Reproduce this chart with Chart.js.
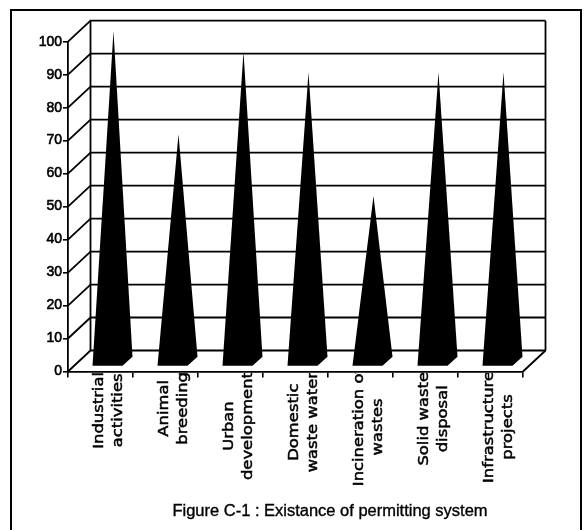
<!DOCTYPE html>
<html>
<head>
<meta charset="utf-8">
<script src="https://cdn.jsdelivr.net/npm/chart.js@4"></script>
<style>
  html, body { margin: 0; padding: 0; background: #fff; }
  #wrap { position: relative; width: 585px; height: 530px; }
</style>
</head>
<body>
<div id="wrap"><canvas id="c" width="585" height="530"></canvas></div>
<script>
// ---- data ----
const categories = [
  ["Industrial", "activities"],
  ["Animal", "breeding"],
  ["Urban", "development"],
  ["Domestic", "waste water"],
  ["Incineration of", "wastes"],
  ["Solid waste", "disposal"],
  ["Infrastructure", "projects"]
];
const values = [100, 68.75, 93.75, 87.5, 50, 87.5, 87.5];
const yTicks = [0, 10, 20, 30, 40, 50, 60, 70, 80, 90, 100];
const caption = "Figure C-1 : Existance of permitting system";

// ---- 3D look settings ----
const DX = 22.5, DY = 21;       // back wall offset
const MDX = 11, MDY = 10.5;     // cone (middle depth) offset

const wallPlugin = {
  id: 'wall',
  beforeDatasetsDraw(chart) {
    const { ctx, chartArea: a, scales: { y } } = chart;
    ctx.save();
    ctx.strokeStyle = '#000';
    ctx.lineWidth = 1.8;
    yTicks.forEach(v => {
      const py = y.getPixelForValue(v);
      ctx.beginPath();
      ctx.moveTo(a.left, py);
      ctx.lineTo(a.left + DX, py - DY);
      ctx.lineTo(a.right + DX, py - DY);
      ctx.stroke();
    });
    const top = y.getPixelForValue(yTicks[yTicks.length - 1]) - DY;
    const bot = y.getPixelForValue(0) - DY;
    ctx.beginPath();
    ctx.moveTo(a.left + DX, top); ctx.lineTo(a.left + DX, bot);
    ctx.moveTo(a.right + DX, top); ctx.lineTo(a.right + DX, bot);
    ctx.moveTo(a.right, y.getPixelForValue(0)); ctx.lineTo(a.right + DX, bot);
    ctx.stroke();
    ctx.restore();
  },
  afterDatasetsDraw(chart) {
    const { ctx, chartArea: a, scales: { x } } = chart;
    const meta = chart.getDatasetMeta(0);
    ctx.save();
    // cones
    ctx.fillStyle = '#000';
    meta.data.forEach(bar => {
      const bx = bar.x, base = bar.base, top = bar.y - MDY;
      ctx.beginPath();
      ctx.moveTo(bx + 2 + MDX, top);
      ctx.lineTo(bx + 21 + MDX, base - 14);
      ctx.lineTo(bx + 11 + MDX, base - 5);
      ctx.lineTo(bx - 19 + MDX, base - 5);
      ctx.closePath();
      ctx.fill();
    });
    ctx.restore();

    // category labels (rotated, two lines, centred on each other)
    ctx.save();
    ctx.beginPath();
    ctx.rect(0, a.bottom + 1.5, chart.width, chart.height);
    ctx.clip();
    ctx.fillStyle = '#000';
    ctx.strokeStyle = '#000';
    ctx.lineWidth = 0.5;
    ctx.font = '14px "DejaVu Sans"';
    ctx.textAlign = 'center';
    ctx.textBaseline = 'alphabetic';
    const SX = 1.17;
    categories.forEach((lines, i) => {
      const bx = x.getPixelForValue(i);
      const lens = lines.map(s => ctx.measureText(s).width * SX);
      const maxLen = Math.max(...lens);
      const yc = a.bottom + 0.5 + Math.min(maxLen, 110) / 2;
      lines.forEach((s, j) => {
        ctx.save();
        ctx.translate(bx + 2 + j * 19, yc);
        ctx.rotate(-Math.PI / 2);
        ctx.scale(SX, 1);
        ctx.fillText(s, 0, 0);
        ctx.strokeText(s, 0, 0);
        ctx.restore();
      });
    });
    ctx.restore();

    // caption
    ctx.save();
    ctx.fillStyle = '#000';
    ctx.strokeStyle = '#000';
    ctx.lineWidth = 0.35;
    ctx.font = '16px "Liberation Sans", Arial, sans-serif';
    ctx.textAlign = 'center';
    ctx.textBaseline = 'middle';
    ctx.translate(330, 512);
    ctx.scale(1.03, 1);
    ctx.fillText(caption, 0, 0);
    ctx.strokeText(caption, 0, 0);
    ctx.restore();

    // outer frame
    ctx.save();
    ctx.strokeStyle = '#000';
    ctx.lineWidth = 2;
    ctx.beginPath();
    ctx.moveTo(11, 540); ctx.lineTo(11, 10); ctx.lineTo(581, 10); ctx.lineTo(581, 540);
    ctx.stroke();
    ctx.restore();
  }
};

new Chart(document.getElementById('c'), {
  type: 'bar',
  data: {
    labels: categories,
    datasets: [{
      data: values,
      backgroundColor: 'rgba(0,0,0,0)',
      borderWidth: 0
    }]
  },
  options: {
    responsive: false,
    animation: false,
    layout: { padding: { left: 0, right: 62, top: 41.7, bottom: 0 } },
    plugins: { legend: { display: false }, tooltip: { enabled: false } },
    scales: {
      x: {
        offset: true,
        grid: { display: true, drawOnChartArea: false, offset: true, color: '#000', lineWidth: 1.6, tickLength: 6 },
        border: { display: true, color: '#000', width: 1.8 },
        ticks: { display: false },
        afterFit(s) { s.height = 158.5; }
      },
      y: {
        min: 0, max: 100,
        afterBuildTicks(s) { s.ticks = yTicks.map(v => ({ value: v })); },
        grid: { display: true, drawOnChartArea: false, color: '#000', lineWidth: 1.6, tickLength: 5 },
        border: { display: true, color: '#000', width: 1.8 },
        ticks: { color: '#000', padding: 1, textStrokeColor: '#000', textStrokeWidth: 0.6,
                 font: { family: '"Liberation Sans", Arial, sans-serif', size: 14 } },
        afterFit(s) { s.width = 68; }
      }
    }
  },
  plugins: [wallPlugin]
});
</script>
</body>
</html>
